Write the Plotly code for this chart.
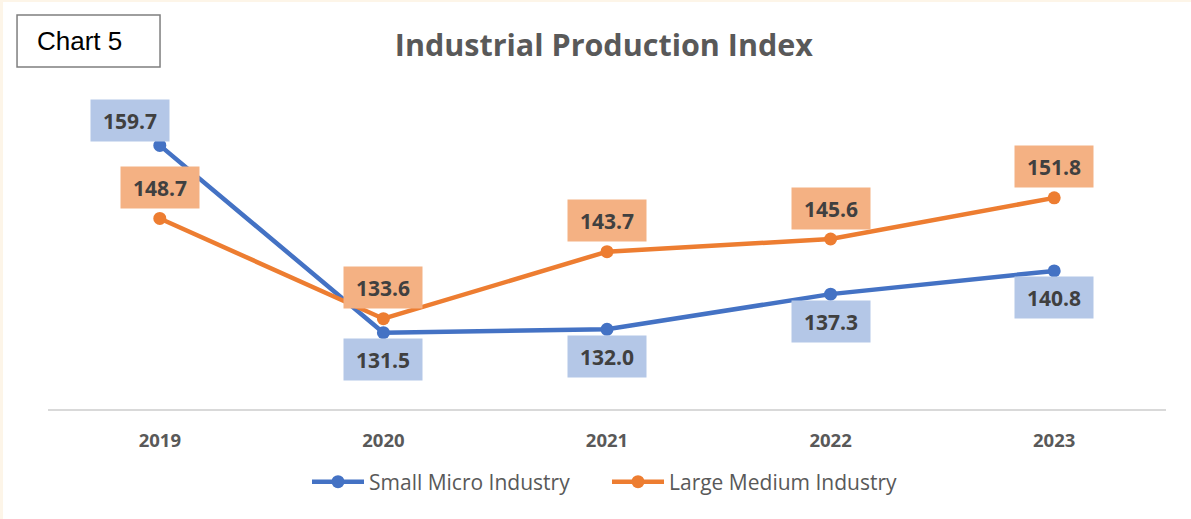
import plotly.graph_objects as go

years = ["2019", "2020", "2021", "2022", "2023"]
small_micro = [159.7, 131.5, 132.0, 137.3, 140.8]
large_medium = [148.7, 133.6, 143.7, 145.6, 151.8]
small_label_side = ["above", "below", "below", "below", "below"]
large_label_side = ["above", "above", "above", "above", "above"]

BLUE = "#4472c4"
ORANGE = "#ed7d31"
BLUE_BG = "#b4c7e7"
ORANGE_BG = "#f4b183"
FONT = "Open Sans"

fig = go.Figure()
fig.add_trace(go.Scatter(x=years, y=small_micro, name="Small Micro Industry",
                         mode="lines+markers", line=dict(color=BLUE, width=4.5),
                         marker=dict(size=13, color=BLUE)))
fig.add_trace(go.Scatter(x=years, y=large_medium, name="Large Medium Industry",
                         mode="lines+markers", line=dict(color=ORANGE, width=4.5),
                         marker=dict(size=13, color=ORANGE)))

annotations = []
for i, (v, side) in enumerate(zip(small_micro, small_label_side)):
    annotations.append(dict(x=i, y=v, xref="x", yref="y", text=f"<b>{v:.1f}</b>",
                            showarrow=False, xanchor="center", yanchor="middle",
                            xshift=-30 if i == 0 else 0,
                            yshift=25 if side == "above" else -27,
                            bgcolor=BLUE_BG, width=76, height=39,
                            font=dict(family=FONT, size=21, color="#404040")))
for i, (v, side) in enumerate(zip(large_medium, large_label_side)):
    annotations.append(dict(x=i, y=v, xref="x", yref="y", text=f"<b>{v:.1f}</b>",
                            showarrow=False, xanchor="center", yanchor="middle",
                            yshift=31 if side == "above" else -27,
                            bgcolor=ORANGE_BG, width=76, height=39,
                            font=dict(family=FONT, size=21, color="#404040")))

# "Chart 5" box label
annotations.append(dict(x=0.0286, y=1.107, xref="paper", yref="paper",
                        xanchor="center", yanchor="middle",
                        text="Chart 5", showarrow=False,
                        font=dict(family="Liberation Sans", size=26, color="#000000")))

shapes = [
    dict(type="rect", xref="paper", yref="paper", x0=-0.0402, x1=1.03, y0=-0.34, y1=1.226,
         fillcolor="white", line=dict(width=0), layer="below"),
    dict(type="rect", xref="paper", yref="paper", x0=-0.0277, x1=0.1002, y0=1.0301, y1=1.1867,
         fillcolor="white", line=dict(width=1.5, color="#7f7f7f"), layer="below"),
]

fig.update_layout(
    width=1191, height=519,
    margin=dict(l=48, r=25, t=77, b=110),
    paper_bgcolor="#fdf5e8",
    plot_bgcolor="white",
    title=dict(text="<b>Industrial Production Index</b>", x=0.507, xanchor="center",
               y=1 - 45 / 519, yanchor="middle",
               font=dict(family=FONT, size=30.5, color="#595959")),
    xaxis=dict(type="category", range=[-0.5, 4.5], showgrid=False, showline=True,
               linecolor="#d9d9d9", linewidth=2, ticks="", ticklabelstandoff=14,
               tickfont=dict(family=FONT, size=18.5, color="#595959"),
               tickvals=years, ticktext=[f"<b>{y}</b>" for y in years]),
    yaxis=dict(range=[120, 170], visible=False, showgrid=False, zeroline=False),
    legend=dict(orientation="h", x=0.5, xanchor="center", y=-0.22, yanchor="middle",
                font=dict(family=FONT, size=21, color="#595959"),
                bgcolor="rgba(0,0,0,0)", itemwidth=52, entrywidth=233,
                traceorder="normal"),
    annotations=annotations,
    shapes=shapes,
    showlegend=True,
)

fig.write_html("out.html", config={"displayModeBar": False},
               post_script="document.body.style.margin='0';")
